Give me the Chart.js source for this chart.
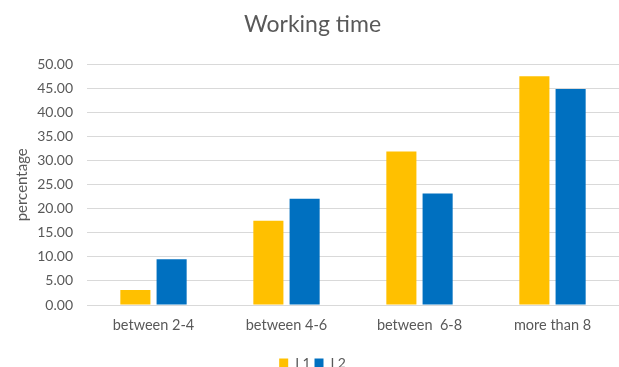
<!DOCTYPE html>
<html>
<head>
<meta charset="utf-8">
<script src="https://cdn.jsdelivr.net/npm/chart.js@4/dist/chart.umd.min.js"></script>
<style>
  html, body { margin: 0; padding: 0; background: #ffffff; }
  #wrap { width: 619px; height: 367px; position: relative; }
</style>
</head>
<body>
<div id="wrap"><canvas id="chart" width="619" height="367"></canvas></div>
<script>
// Hours worked per day, share of respondents (%)
const categories = ["between 2-4", "between 4-6", "between  6-8", "more than 8"];
const seriesNames = ["L1", "L2"];
const l1Values = [3.1, 17.5, 31.9, 47.6];
const l2Values = [9.5, 22.1, 23.2, 44.9];
const yTicks = [0, 5, 10, 15, 20, 25, 30, 35, 40, 45, 50];

const FONT = "Lato, 'Open Sans', sans-serif";
const TEXT = "#595959";

new Chart(document.getElementById("chart"), {
  type: "bar",
  data: {
    labels: categories,
    datasets: [
      { label: seriesNames[0], data: l1Values, backgroundColor: "#FFC000",
        barPercentage: 0.83, categoryPercentage: 0.545 },
      { label: seriesNames[1], data: l2Values, backgroundColor: "#0070C0",
        barPercentage: 0.83, categoryPercentage: 0.545 }
    ]
  },
  options: {
    responsive: false,
    animation: false,
    layout: { padding: { top: 0, right: 0, bottom: -13, left: 6 } },
    plugins: {
      title: {
        display: true,
        text: "Working time",
        color: TEXT,
        font: { family: FONT, size: 23, weight: "normal" },
        padding: { top: 11, bottom: 26 }
      },
      legend: {
        position: "bottom",
        labels: {
          color: TEXT,
          font: { family: FONT, size: 14 },
          boxWidth: 9, boxHeight: 9, padding: 4
        }
      },
      tooltip: { enabled: false }
    },
    scales: {
      x: {
        afterFit: (scale) => { scale.height = 47; },
        grid: { display: false, drawTicks: false },
        border: { display: false },
        ticks: { color: TEXT, font: { family: FONT, size: 14.5 }, padding: 12 }
      },
      y: {
        min: 0, max: 50,
        afterBuildTicks: (scale) => { scale.ticks = yTicks.map(v => ({ value: v })); },
        afterFit: (scale) => { scale.width = 81; },
        grid: { color: "#d9d9d9", lineWidth: 1, drawTicks: false },
        border: { display: false },
        title: {
          display: true, text: "percentage", color: TEXT,
          font: { family: FONT, size: 15 }, padding: { top: 7, bottom: 0 }
        },
        ticks: {
          color: TEXT, font: { family: FONT, size: 14 }, padding: 14,
          callback: (v) => Number(v).toFixed(2)
        }
      }
    }
  }
});
</script>
</body>
</html>
